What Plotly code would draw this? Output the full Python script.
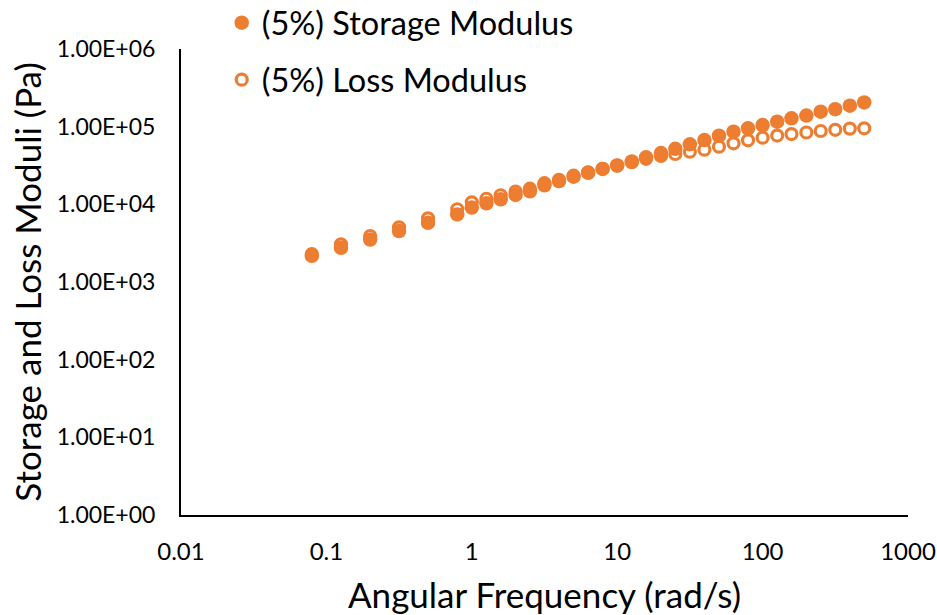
import plotly.graph_objects as go

# Angular frequency (rad/s)
freq = [0.0794, 0.126, 0.2, 0.316, 0.5, 0.794, 1.0, 1.26, 1.58, 2.0, 2.51, 3.16, 3.98,
        5.01, 6.31, 7.94, 10.0, 12.6, 15.8, 20.0, 25.1, 31.6, 39.8, 50.1, 63.1, 79.4,
        100.0, 126.0, 158.0, 200.0, 251.0, 316.0, 398.0, 500.0]

# (5%) Storage Modulus (Pa)
storage = [2170, 2755, 3525, 4520, 5780, 7420, 9100, 10300, 11600, 13200, 14700, 17600,
           19900, 22700, 25500, 28600, 31700, 35600, 40300, 45800, 51800, 59300, 67300,
           76400, 86100, 95200, 105000, 116000, 128000, 139000, 156000, 168000, 186000,
           205000]

# (5%) Loss Modulus (Pa)
loss = [2290, 3060, 3910, 5060, 6610, 8650, 10600, 11800, 13100, 14600, 15900, 18700,
        20700, 23400, 25900, 28700, 31500, 34800, 38600, 41900, 44500, 47600, 50500,
        55200, 61100, 66700, 72100, 76900, 80400, 84100, 87900, 91100, 94400, 95200]

x_tickvals = [0.01, 0.1, 1, 10, 100, 1000]
x_ticktext = ["0.01", "0.1", "1", "10", "100", "1000"]
y_tickvals = [1, 10, 100, 1000, 10000, 100000, 1000000]
y_ticktext = ["1.00E+00", "1.00E+01", "1.00E+02", "1.00E+03", "1.00E+04", "1.00E+05", "1.00E+06"]

ORANGE = "#ED7D31"
FONT = "Lato"

fig = go.Figure()

fig.add_trace(go.Scatter(
    x=freq, y=loss, mode="markers", name="(5%) Loss Modulus",
    marker=dict(symbol="circle", size=11, color="white",
                line=dict(color=ORANGE, width=3.2)),
    legend="legend2",
))
fig.add_trace(go.Scatter(
    x=freq, y=storage, mode="markers", name="(5%) Storage Modulus",
    marker=dict(symbol="circle", size=14.5, color=ORANGE, line=dict(width=0)),
    legend="legend",
))

fig.update_layout(
    width=937, height=615,
    margin=dict(l=181, r=29, t=49, b=100, autoexpand=False),
    paper_bgcolor="white", plot_bgcolor="white",
    font=dict(family=FONT, color="black"),
    showlegend=True,
    legend=dict(x=0.056, y=1 - 23 / 615, yref="container", xanchor="left", yanchor="middle",
                font=dict(family=FONT, size=32.5, color="black"),
                bgcolor="rgba(0,0,0,0)", itemwidth=30),
    legend2=dict(x=0.056, y=1 - 80 / 615, yref="container", xanchor="left", yanchor="middle",
                 font=dict(family=FONT, size=32.5, color="black"),
                 bgcolor="rgba(0,0,0,0)", itemwidth=30),
    xaxis=dict(
        type="log", range=[-2, 3],
        tickvals=x_tickvals, ticktext=x_ticktext,
        showgrid=False, zeroline=False,
        showline=True, linecolor="black", linewidth=2,
        ticks="", ticklabelstandoff=14,
        tickfont=dict(family=FONT, size=24, color="black"),
        title=dict(text="Angular Frequency (rad/s)", standoff=20,
                   font=dict(family=FONT, size=35, color="black")),
    ),
    yaxis=dict(
        type="log", range=[0, 6],
        tickvals=y_tickvals, ticktext=y_ticktext,
        showgrid=False, zeroline=False,
        showline=True, linecolor="black", linewidth=2,
        ticks="", ticklabelstandoff=19,
        tickfont=dict(family=FONT, size=23, color="black"),
        title=dict(text="Storage and Loss Moduli (Pa)", standoff=4,
                   font=dict(family=FONT, size=35, color="black")),
    ),
)

fig.write_html("out.html",
               config={"displayModeBar": False},
               post_script="document.body.style.margin='0';document.body.style.overflow='hidden';")
